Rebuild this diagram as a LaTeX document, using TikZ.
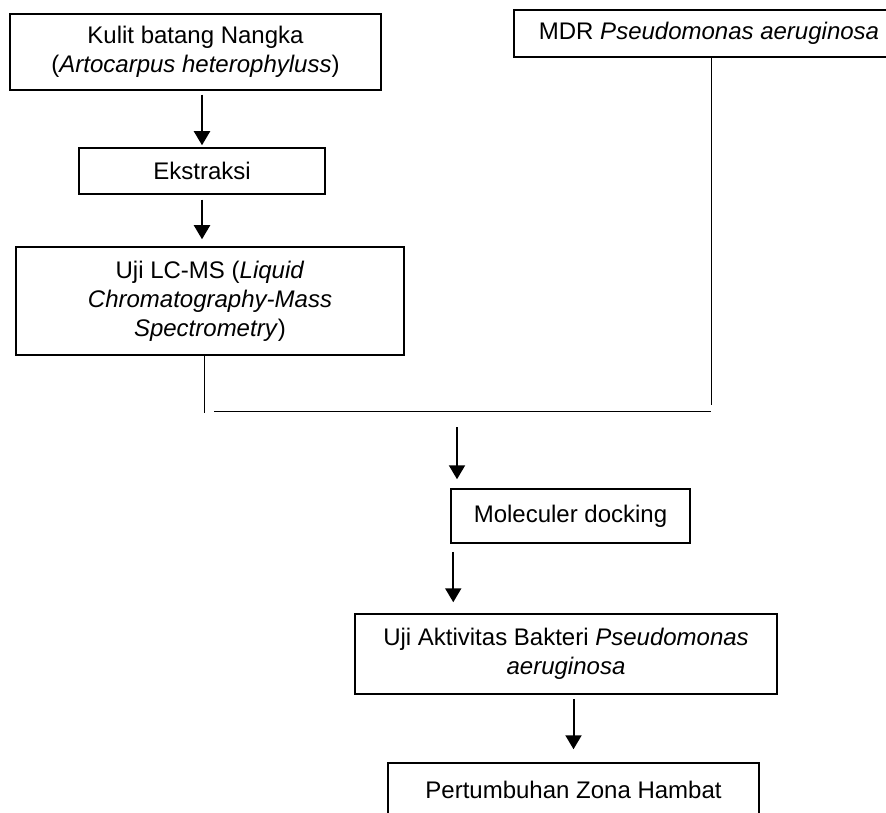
\documentclass[tikz,border=0pt]{standalone}
\usepackage{fontspec}
\setmainfont{Liberation Sans}
\usetikzlibrary{shapes,arrows.meta,positioning}

\begin{document}
\begin{tikzpicture}[
    x=0.5pt, y=-0.5pt,
    >={Triangle[width=8pt,length=7pt]},
    every node/.style={align=center}
]

% Define styles
\tikzstyle{block} = [rectangle, draw, line width=0.75pt, inner sep=0pt,
    font=\fontsize{12pt}{14.5pt}\selectfont]
\tikzstyle{line} = [draw, line width=0.5pt]
\tikzstyle{arrow} = [draw, line width=1pt, ->]

\useasboundingbox (0,0) rectangle (886,812);
\clip (0,0) rectangle (886,812);

% Nodes
\node [block, minimum width=185.5pt, minimum height=38pt] (kulit) at (195.5,52)
    {Kulit batang Nangka\\(\textit{Artocarpus heterophyluss})};
\node [block, minimum width=123pt, minimum height=23pt] (ekstraksi) at (202,171) {Ekstraksi};
\node [block, minimum width=194pt, minimum height=54pt] (lcms) at (210,301)
    {Uji LC-MS (\textit{Liquid}\\\textit{Chromatography-Mass}\\\textit{Spectrometry})};
\node [block, minimum width=195pt, minimum height=23.5pt] (mdr) at (709,33.5)
    {MDR \textit{Pseudomonas aeruginosa}};
\node [block, minimum width=119.5pt, minimum height=27pt] (docking) at (570.5,516) {Moleculer docking};
\node [block, minimum width=211pt, minimum height=40pt] (aktivitas) at (566,654)
    {Uji Aktivitas Bakteri \textit{Pseudomonas}\\\textit{aeruginosa}};
\node [block, minimum width=185.5pt, minimum height=27pt] (zona) at (573.5,790) {Pertumbuhan Zona Hambat};

% Junction points
\coordinate (lcmsend) at (204,413);
\coordinate (mdrend) at (711,405);
\coordinate (joinL) at (214,411);
\coordinate (joinR) at (711,411);
\coordinate (dockin) at (457,427);
\coordinate (aktin) at ([xshift=1.5pt]docking.south west);

% Paths
\path [arrow, shorten <=2pt, shorten >=1pt] (kulit.south -| ekstraksi.north) -- (ekstraksi.north);
\path [arrow, shorten <=2.5pt, shorten >=3.5pt] (ekstraksi.south) -- (ekstraksi.south |- lcms.north);
\path [line] (lcms.south -| lcmsend) -- (lcmsend);
\path [line] (mdr.south -| mdrend) -- (mdrend);
\path [line] (joinL) -- (joinR);
\path [arrow, shorten >=4.5pt] (dockin) -- (dockin |- docking.north);
\path [arrow, shorten <=4pt, shorten >=5.5pt] (aktin) -- (aktin |- aktivitas.north);
\path [arrow, shorten <=2pt, shorten >=6.5pt] (aktivitas.south -| zona.north) -- (zona.north);

\end{tikzpicture}
\end{document}
